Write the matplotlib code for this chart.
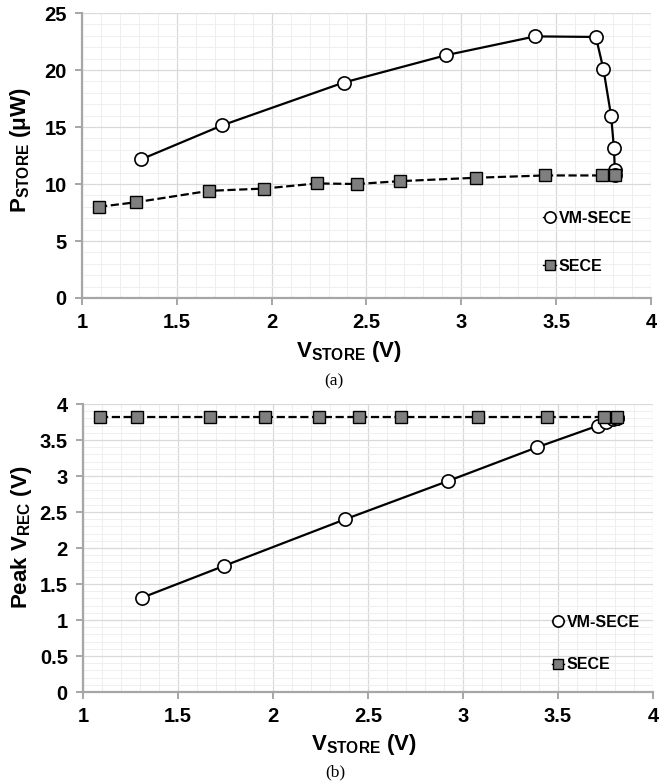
import numpy as np
import matplotlib.pyplot as plt
from matplotlib.ticker import MultipleLocator

plt.rcParams['font.family'] = ['Liberation Sans', 'DejaVu Sans']
plt.rcParams['mathtext.fontset'] = 'custom'
plt.rcParams['mathtext.rm'] = 'Liberation Sans'
plt.rcParams['mathtext.bf'] = 'Liberation Sans:bold'

# Donnees
vstore_vm = [1.31, 1.74, 2.38, 2.92, 3.39, 3.71, 3.75, 3.79, 3.805, 3.81, 3.81]
pstore_vm = [12.15, 15.15, 18.9, 21.3, 22.95, 22.9, 20.05, 16.0, 13.2, 11.2, 10.8]
vstore_sece = [1.09, 1.285, 1.67, 1.96, 2.24, 2.45, 2.675, 3.08, 3.44, 3.74, 3.81]
pstore_sece = [8.0, 8.4, 9.4, 9.6, 10.05, 10.0, 10.25, 10.55, 10.75, 10.75, 10.75]

vrec_vm = [1.31, 1.75, 2.40, 2.93, 3.40, 3.70, 3.75, 3.79, 3.80, 3.81, 3.81]
vrec_sece = [3.82] * len(vstore_sece)

grey = '#a6a6a6'

fig = plt.figure(figsize=(6.6, 7.84), dpi=100)
ax1 = fig.add_axes([0.1242, 0.6199, 0.862, 0.3635])
ax2 = fig.add_axes([0.1258, 0.1173, 0.8636, 0.3673])


def style(ax, ymax, ymaj, ymin):
    ax.set_xlim(1, 4)
    ax.set_ylim(0, ymax)
    ax.xaxis.set_major_locator(MultipleLocator(0.5))
    ax.xaxis.set_minor_locator(MultipleLocator(0.1))
    ax.yaxis.set_major_locator(MultipleLocator(ymaj))
    ax.yaxis.set_minor_locator(MultipleLocator(ymin))
    ax.grid(which='major', color='#d9d9d9', linewidth=0.9)
    ax.grid(which='minor', color='#efefef', linewidth=0.7)
    ax.set_axisbelow(True)
    for s in ['top', 'right']:
        ax.spines[s].set_visible(False)
    for s in ['left', 'bottom']:
        ax.spines[s].set_color(grey)
        ax.spines[s].set_linewidth(1.6)
    ax.tick_params(which='major', direction='out', length=5, width=1.4, color=grey,
                   labelsize=14.5, pad=6)
    ax.tick_params(which='minor', length=0)
    for lab in ax.get_xticklabels() + ax.get_yticklabels():
        lab.set_fontweight('bold')
    ax.xaxis.set_major_formatter(plt.FuncFormatter(lambda v, p: ('%g' % v)))
    ax.yaxis.set_major_formatter(plt.FuncFormatter(lambda v, p: ('%g' % v)))


style(ax1, 25, 5, 1)
style(ax2, 4, 0.5, 0.1)

ax1.plot(vstore_vm, pstore_vm, '-', color='black', lw=1.6, marker='o', ms=9.5,
         mfc='white', mec='black', mew=1.2, label='VM-SECE', zorder=3)
ax1.plot(vstore_sece, pstore_sece, '--', color='black', lw=1.6, marker='s', ms=8.5,
         mfc='#7f7f7f', mec='black', mew=1.0, label='SECE', zorder=4)

ax2.plot(vstore_vm, vrec_vm, '-', color='black', lw=1.6, marker='o', ms=9.5,
         mfc='white', mec='black', mew=1.2, label='VM-SECE', zorder=3)
ax2.plot(vstore_sece, vrec_sece, '--', color='black', lw=1.6, marker='s', ms=8.5,
         mfc='#7f7f7f', mec='black', mew=1.0, label='SECE', zorder=4)

leg_kw = dict(frameon=False, handlelength=0.8, handletextpad=0.15, borderpad=0,
              borderaxespad=0, loc='center left', markerscale=0.85,
              prop={'weight': 'bold', 'size': 11.5})
l1 = ax1.legend(bbox_to_anchor=(0.811, 0.195), labelspacing=2.05, **leg_kw)
l2 = ax2.legend(bbox_to_anchor=(0.822, 0.168), labelspacing=1.7, **leg_kw)
for leg in (l1, l2):
    for h in leg.legend_handles:
        h.set_linestyle('-')
        h.set_linewidth(1.0)

ax1.set_ylabel(r'$\mathbf{P_{STORE}}$' + ' (μW)', fontsize=16, fontweight='bold')
ax1.set_xlabel(r'$\mathbf{V_{STORE}}$' + ' (V)', fontsize=16, fontweight='bold')
ax1.xaxis.set_label_coords(0.469, -0.145)
ax1.yaxis.set_label_coords(-0.086, 0.519)
ax2.set_ylabel(r'Peak $\mathbf{V_{REC}}$' + ' (V)', fontsize=16, fontweight='bold')
ax2.set_xlabel(r'$\mathbf{V_{STORE}}$' + ' (V)', fontsize=16, fontweight='bold')
ax2.xaxis.set_label_coords(0.493, -0.14)
ax2.yaxis.set_label_coords(-0.086, 0.538)

fig.text(334 / 660, 1 - 381 / 784, '(a)', family='Liberation Serif', fontsize=12.5,
         ha='center', va='center')
fig.text(335 / 660, 1 - 772 / 784, '(b)', family='Liberation Serif', fontsize=12.5,
         ha='center', va='center')

plt.savefig('out.png', dpi=100)
